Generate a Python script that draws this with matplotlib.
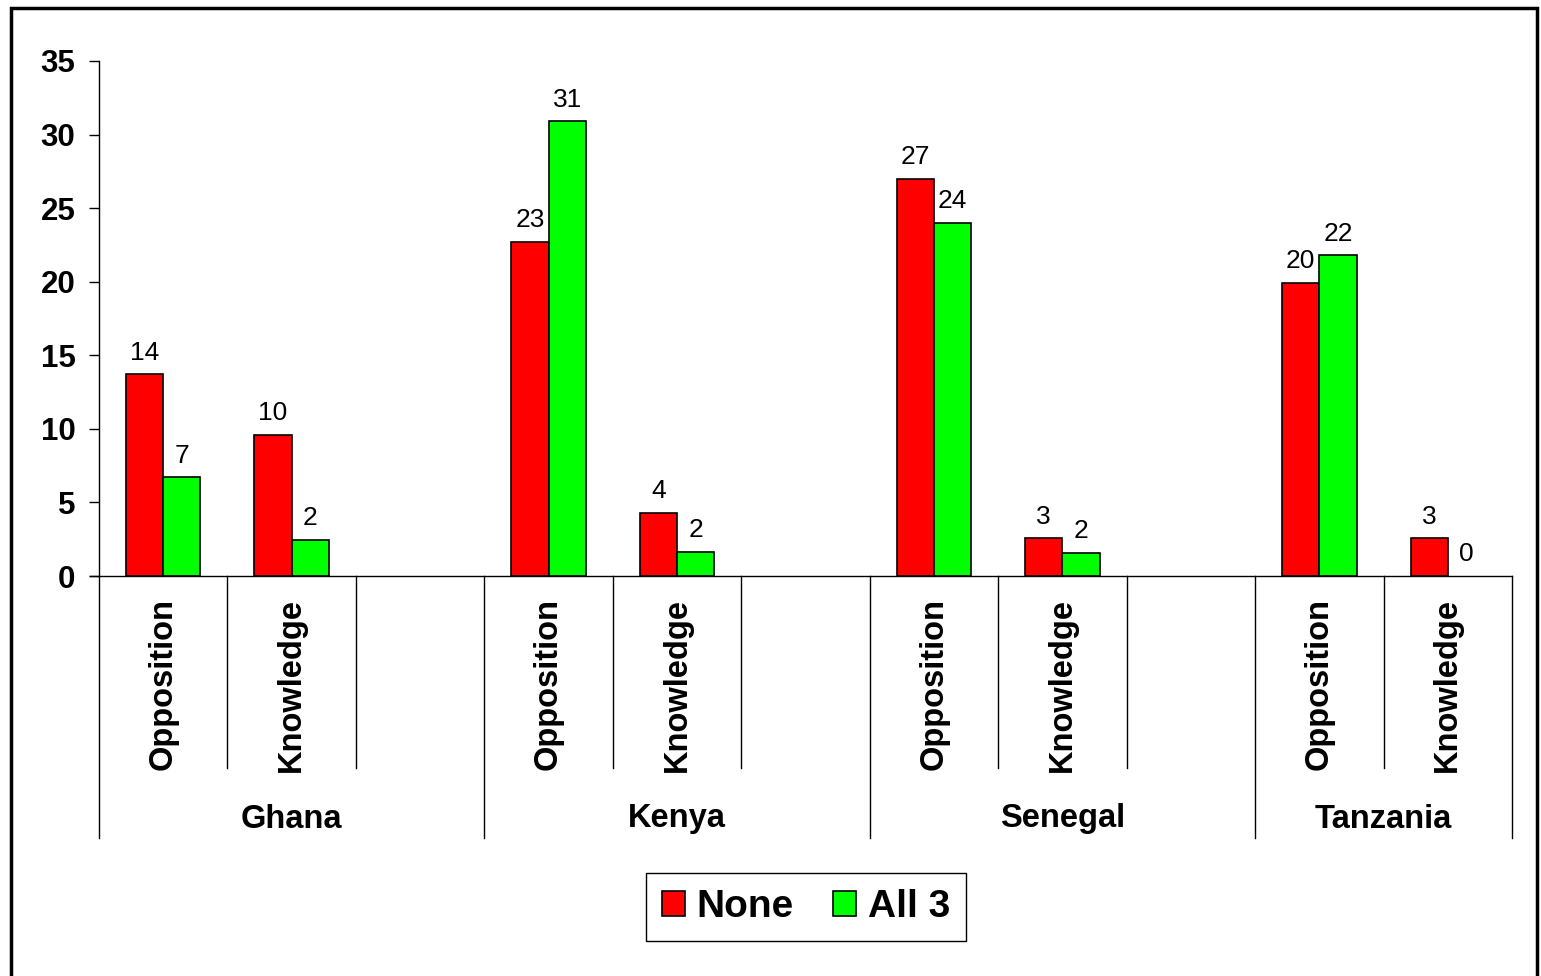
import matplotlib.pyplot as plt
from matplotlib.patches import Rectangle

plt.rcParams['font.family'] = ['Liberation Sans', 'DejaVu Sans']

countries = ["Ghana", "Kenya", "Senegal", "Tanzania"]
measures = ["Opposition", "Knowledge"]
# values per country: [Opposition, Knowledge]
none_vals = [[13.7, 9.6], [22.7, 4.3], [27.0, 2.56], [19.9, 2.55]]
all3_vals = [[6.7, 2.45], [30.9, 1.65], [24.0, 1.58], [21.8, 0.0]]
series_names = ["None", "All 3"]
series_colors = ["#ff0000", "#00ff00"]

fig = plt.figure(figsize=(15.41, 9.76), dpi=100)
ax = fig.add_axes([99 / 1541, 1 - 576 / 976, (1512 - 99) / 1541, (576 - 61) / 976])

# each country takes 3 slots (2 measures + empty spacer), last one only 2
positions = []
slot = 0
group_edges = [0]
for i, c in enumerate(countries):
    for j in range(len(measures)):
        positions.append(slot + j)
    slot += 3 if i < len(countries) - 1 else 2
    group_edges.append(slot)

n_flat = [v for row in none_vals for v in row]
a_flat = [v for row in all3_vals for v in row]
w = 0.29
x_none = [p - w / 2 for p in positions]
x_all = [p + w / 2 for p in positions]
b1 = ax.bar(x_none, n_flat, w, color=series_colors[0], edgecolor="black", linewidth=1.2, label=series_names[0])
b2 = ax.bar(x_all, a_flat, w, color=series_colors[1], edgecolor="black", linewidth=1.2, label=series_names[1])

for bars, vals in [(b1, n_flat), (b2, a_flat)]:
    for b, v in zip(bars, vals):
        if v == 0:
            b.set_linewidth(0)
        ax.annotate(f"{v:.0f}", (b.get_x() + b.get_width() / 2, v), xytext=(0, 7),
                    textcoords="offset points", ha="center", va="bottom", fontsize=19)

ax.set_xlim(-0.5, slot - 0.5)
ax.set_ylim(0, 35)
ax.set_yticks(range(0, 36, 5))
ax.tick_params(axis="y", labelsize=22.5, length=7, width=1, pad=10)
for t in ax.get_yticklabels():
    t.set_fontweight("bold")
ax.set_xticks([])
for s in ["top", "right"]:
    ax.spines[s].set_visible(False)
ax.spines["left"].set_linewidth(1)
ax.spines["bottom"].set_visible(False)

tr = ax.get_xaxis_transform()
ax.plot([-0.5 - 9 / 128.5, slot - 0.5], [0, 0], color="black", lw=1, transform=tr, clip_on=False)

short = -(768 - 576) / 515
long_ = -(838 - 576) / 515
# separators between slots
for k in range(slot + 1):
    xk = k - 0.5
    y_end = long_ if k in group_edges else short
    ax.plot([xk, xk], [0, y_end], color="black", lw=1, transform=tr, clip_on=False)

for p, lab in zip(positions, measures * len(countries)):
    ax.text(p, -(598 - 576) / 515, lab, rotation=90, ha="center", va="top",
            fontsize=23.5, fontweight="bold", transform=tr)

for i, c in enumerate(countries):
    mid = (group_edges[i] + group_edges[i + 1]) / 2 - 0.5
    ax.text(mid, -(819 - 576) / 515, c, ha="center", va="center",
            fontsize=23.5, fontweight="bold", transform=tr)

leg = fig.legend(handles=[b1, b2], loc="center", bbox_to_anchor=(806 / 1541, 1 - 907 / 976),
                 ncol=2, prop={"size": 28, "weight": "bold"}, frameon=True, fancybox=False,
                 edgecolor="black", framealpha=1, handlelength=0.6, handleheight=0.6,
                 handletextpad=0.3, columnspacing=1.0, borderpad=0.4)
leg.get_frame().set_linewidth(1)

fig.patches.append(Rectangle((11 / 1541, -0.01), (1537 - 11) / 1541, 1 - 8 / 976 + 0.01,
                             transform=fig.transFigure, fill=False, edgecolor="black", linewidth=2.5))

fig.savefig("out.png", dpi=100)
